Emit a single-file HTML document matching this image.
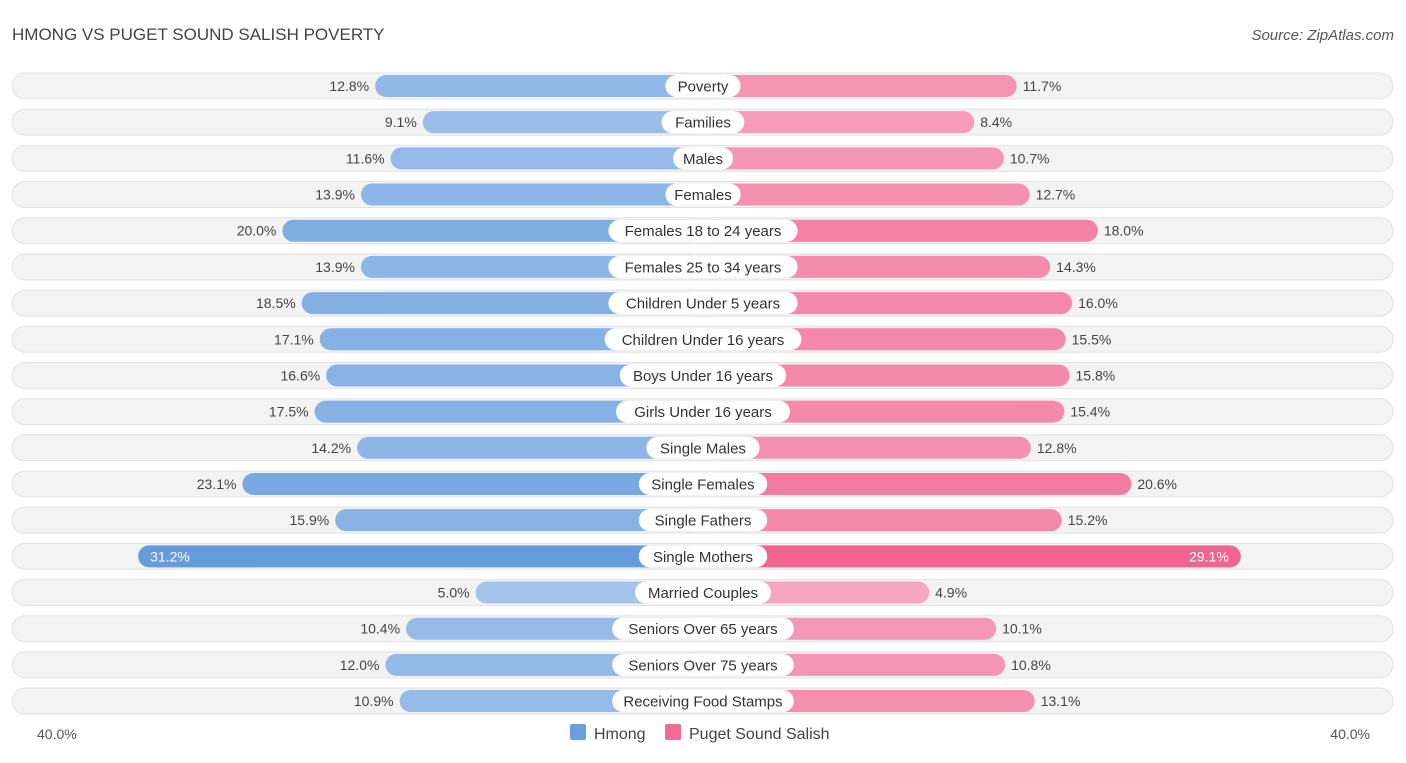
<!DOCTYPE html>
<html><head><meta charset="utf-8"><style>
body{margin:0;width:1406px;height:758px;background:#fff;font-family:"Liberation Sans",sans-serif;overflow:hidden}
</style></head><body>
<svg width="1406" height="758" id="c">
<text x="12" y="40" font-size="17" fill="#444">HMONG VS PUGET SOUND SALISH POVERTY</text>
<text x="1394" y="40" font-size="15" fill="#555" font-style="italic" text-anchor="end">Source: ZipAtlas.com</text>
<text x="37" y="739" font-size="14" fill="#555">40.0%</text>
<text x="1370" y="739" font-size="14" fill="#555" text-anchor="end">40.0%</text>
<rect x="570" y="724" width="16" height="16" rx="2" fill="#6a9fdc"/>
<text x="594" y="739" font-size="16" fill="#444">Hmong</text>
<rect x="665" y="724" width="16" height="16" rx="2" fill="#f06b96"/>
<text x="689" y="739" font-size="16" fill="#444">Puget Sound Salish</text>
<g id="rows"></g>
</svg>
<script>
const categories=["Poverty","Families","Males","Females","Females 18 to 24 years","Females 25 to 34 years","Children Under 5 years","Children Under 16 years","Boys Under 16 years","Girls Under 16 years","Single Males","Single Females","Single Fathers","Single Mothers","Married Couples","Seniors Over 65 years","Seniors Over 75 years","Receiving Food Stamps"];
const hmong=[12.8,9.1,11.6,13.9,20.0,13.9,18.5,17.1,16.6,17.5,14.2,23.1,15.9,31.2,5.0,10.4,12.0,10.9];
const salish=[11.7,8.4,10.7,12.7,18.0,14.3,16.0,15.5,15.8,15.4,12.8,20.6,15.2,29.1,4.9,10.1,10.8,13.1];
const cx=703,y0=86,dy=36.18;
const w=v=>163+12.88*v;
const ns="http://www.w3.org/2000/svg",g=document.getElementById('rows');
function mk(t,a){const e=document.createElementNS(ns,t);for(const k in a)e.setAttribute(k,a[k]);g.appendChild(e);return e;}
function mix(a,b,t){return 'rgb('+a.map((x,i)=>Math.round(x+(b[i]-x)*t)).join(',')+')';}
categories.forEach((c,i)=>{
 const y=y0+i*dy;
 const bg=mk('rect',{x:12,y:y-13,width:1381,height:26,rx:13,fill:'#f3f3f3',stroke:'#e2e2e2'});
 
 const th=Math.min(1,hmong[i]/31.2),ts=Math.min(1,salish[i]/29.1);
 const lw=w(hmong[i]),rw=w(salish[i]);
 const b1=mk('rect',{x:cx-lw,y:y-11,width:lw,height:22,rx:11,fill:mix([176,203,238],[100,156,220],th)});
 
 const b2=mk('rect',{x:cx,y:y-11,width:rw,height:22,rx:11,fill:mix([248,178,202],[240,100,145],ts)});
 
 const tw=c.length*7.6+22;
 const lb=mk('rect',{x:cx-tw/2,y:y-11,width:tw,height:22,rx:11,fill:'#fff'});
 
 const t=mk('text',{x:cx,y:y+5.5,'font-size':15,fill:'#333','text-anchor':'middle'});t.textContent=c;
 
 const inside=hmong[i]>28;
 const v1=mk('text',{x:inside?cx-lw+12:cx-lw-6,y:y+5,'font-size':14,fill:inside?'#fff':'#444','text-anchor':inside?'start':'end'});
 v1.textContent=hmong[i].toFixed(1)+'%';
 const in2=salish[i]>26;
 const v2=mk('text',{x:in2?cx+rw-12:cx+rw+6,y:y+5,'font-size':14,fill:in2?'#fff':'#444','text-anchor':in2?'end':'start'});
 v2.textContent=salish[i].toFixed(1)+'%';
});
</script>
</body></html>
